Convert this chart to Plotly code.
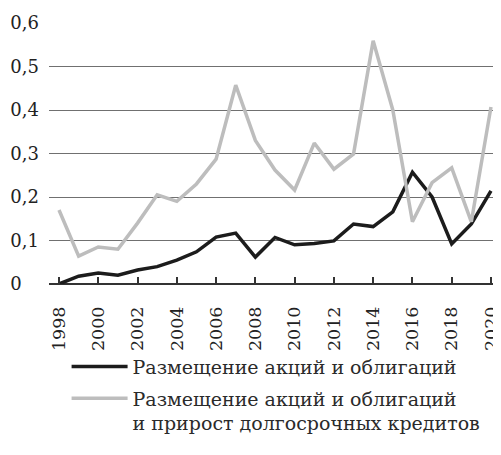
import plotly.graph_objects as go

years = list(range(1998, 2021))
placement = [0.0, 0.018, 0.025, 0.02, 0.032, 0.04, 0.055, 0.074, 0.108, 0.117,
             0.062, 0.107, 0.09, 0.093, 0.099, 0.138, 0.132, 0.166, 0.257, 0.2,
             0.092, 0.138, 0.214]
placement_loans = [0.17, 0.064, 0.085, 0.08, 0.14, 0.205, 0.19, 0.23, 0.287, 0.457,
                   0.33, 0.262, 0.216, 0.324, 0.264, 0.299, 0.559, 0.40, 0.143, 0.233,
                   0.267, 0.143, 0.407]
x_ticks = list(range(1998, 2021, 2))
y_ticks = [0, 0.1, 0.2, 0.3, 0.4, 0.5, 0.6]
y_labels = ["0\u2008\u2007", "0,1", "0,2", "0,3", "0,4", "0,5", "0,6"]
name1 = "Размещение акций и облигаций"
name2 = "Размещение акций и облигаций<br>и прирост долгосрочных кредитов"

font = "DejaVu Serif"
legend_font = dict(family=font, size=19, color="#2a2a2a")

fig = go.Figure()
fig.add_trace(go.Scatter(x=years, y=placement, mode="lines", name=name1,
                         line=dict(color="#1c1c1c", width=3.5), legend="legend"))
fig.add_trace(go.Scatter(x=years, y=placement_loans, mode="lines", name=name2,
                         line=dict(color="#bdbdbd", width=3.5), legend="legend2"))

# page body has an 8px margin, so the figure is 8px smaller and margins shifted
fig.update_layout(
    width=493, height=447,
    margin=dict(l=41, r=1, t=15, b=171),
    paper_bgcolor="white", plot_bgcolor="white",
    font=dict(family=font, size=16, color="#222"),
    showlegend=True,
    legend=dict(x=0.039, y=-0.317, xanchor="left", yanchor="middle",
                font=legend_font, itemwidth=56, bgcolor="rgba(0,0,0,0)"),
    legend2=dict(x=0.039, y=-0.4866, xanchor="left", yanchor="middle", valign="top",
                 font=legend_font, itemwidth=56, bgcolor="rgba(0,0,0,0)"),
    xaxis=dict(range=[1997.49, 2020.46], tickvals=x_ticks, ticktext=[str(v) for v in x_ticks],
               tickangle=-90, showgrid=False, zeroline=False, automargin=False,
               showline=False, ticks="inside", ticklen=7, tickwidth=1.5, tickcolor="#333",
               ticklabelstandoff=18,
               tickfont=dict(family=font, size=17.5, color="#222")),
    yaxis=dict(range=[0, 0.6], tickvals=y_ticks, ticktext=y_labels, automargin=False,
               showgrid=True, gridcolor="#707070", gridwidth=1.4,
               zeroline=True, zerolinecolor="#333", zerolinewidth=1.6,
               showline=False, ticks="", ticklabelstandoff=9,
               tickfont=dict(family=font, size=18, color="#222")),
)

fig.write_html("out.html")
